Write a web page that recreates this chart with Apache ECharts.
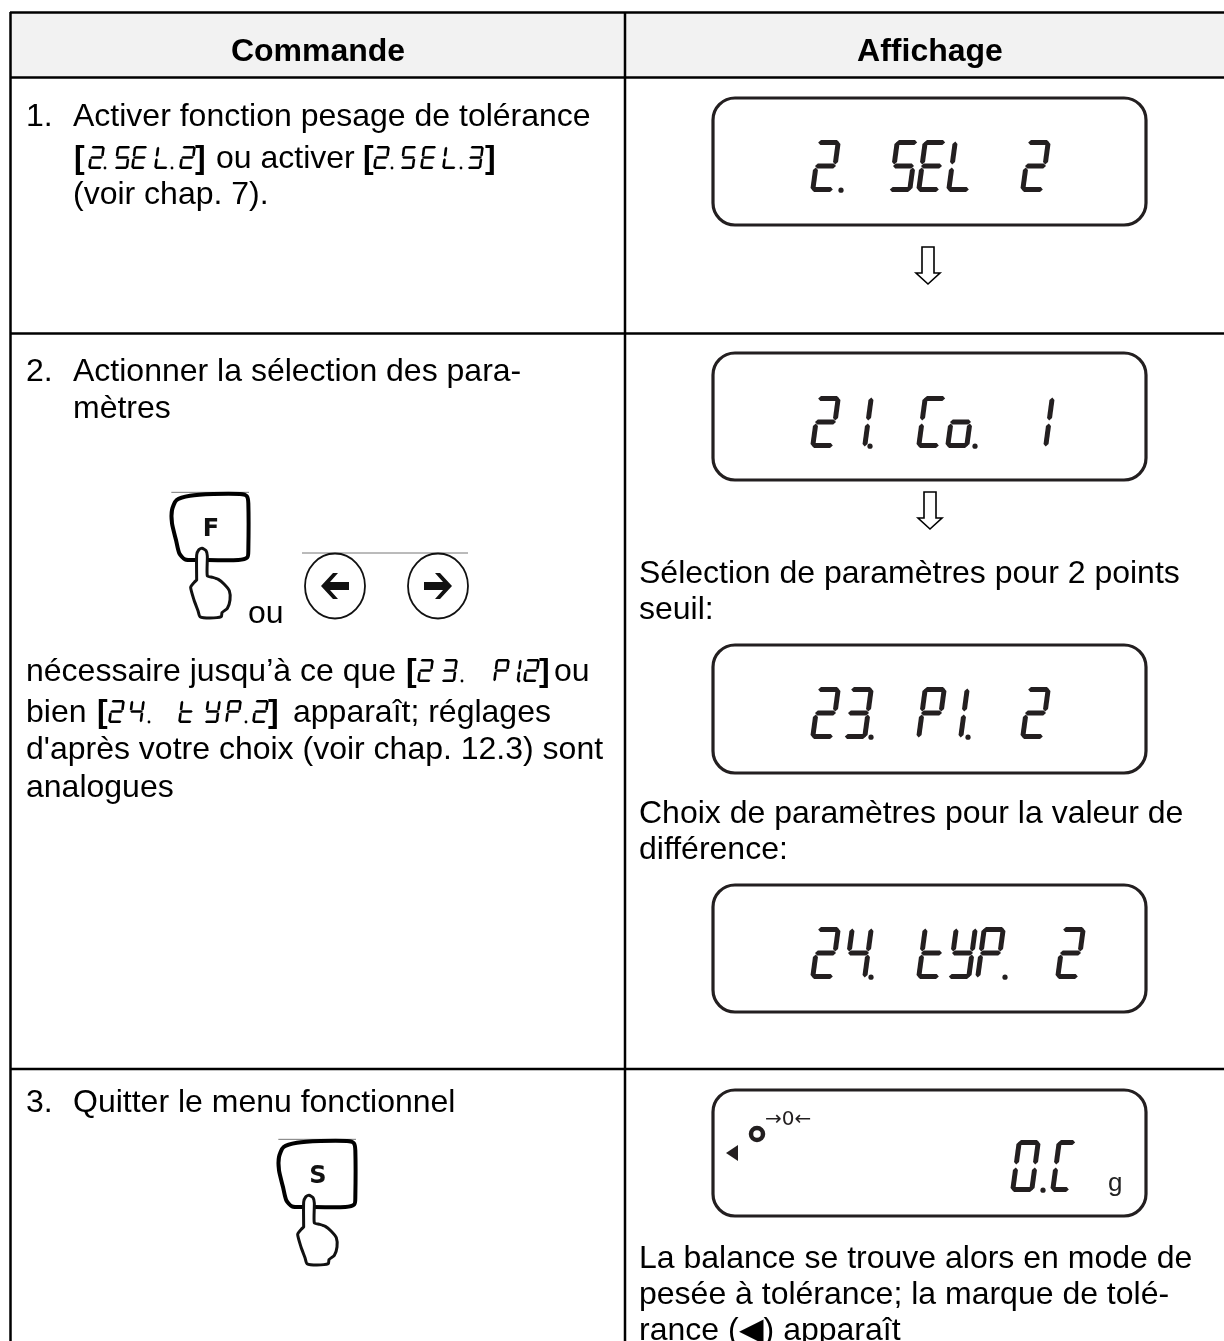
<!DOCTYPE html>
<html><head><meta charset="utf-8">
<style>html,body{margin:0;padding:0;background:#fff}#c{width:1224px;height:1341px}</style>
<script src="https://cdn.jsdelivr.net/npm/echarts@6/dist/echarts.min.js"></script>
</head><body><div id="c"></div>
<script>
// ---------- content ----------
const headers = ['Commande', 'Affichage'];
const stepNumbers = ['1.', '2.', '3.'];
const leftLines = [
  'Activer fonction pesage de tolérance',
  '(voir chap. 7).',
  'Actionner la sélection des para-',
  'mètres',
  'd\'après votre choix (voir chap. 12.3) sont',
  'analogues',
  'Quitter le menu fonctionnel'
];
const rightLines = [
  'Sélection de paramètres pour 2 points',
  'seuil:',
  'Choix de paramètres pour la valeur de',
  'différence:',
  'La balance se trouve alors en mode de',
  'pesée à tolérance; la marque de tolé-',
  'rance (◀) apparaît'
];
const inlineTexts = ['ou activer', 'nécessaire jusqu’à ce que', 'ou', 'bien', 'apparaît; réglages', 'ou'];
const keyLabels = ['F', 'S'];
const lcdTexts = ['2.SEL2', '21.Co.1', '23.P1.2', '24.tYP.2', '0.C'];
const lcdSymbols = ['→0←', 'g'];
const inlineCodes = ['2.5EL.2', '2.5EL.3', '23.P1.2', '24.tYP.2'];

// ---------- layout ----------
const font = '"Liberation Sans", Arial, sans-serif';
const BLACK = '#000', INK = '#231f20';
const g = [];
function text(s, x, y, o = {}) {
  g.push({ type: 'text', z: o.z || 5, style: {
    text: s, x, y: y + 4, fill: o.fill || BLACK, align: o.align || 'left', verticalAlign: 'middle',
    font: `${o.bold ? 'bold ' : ''}${o.size || 32}px ${o.family || font}`
  }});
}
function line(x1, y1, x2, y2, w = 2.5, c = BLACK) {
  g.push({ type: 'line', z: 2, shape: { x1, y1, x2, y2 }, style: { stroke: c, lineWidth: w } });
}
const SEGS = { '0':'abcdef','1':'bc','2':'abged','3':'abgcd','4':'fgbc','5':'afgcd','S':'afgcd','E':'afged','L':'fed',
  'C':'afed','o':'gcde','P':'abfge','t':'fged','Y':'fgbcd' };
function glyph(ch, x0, yTop, w, h, s, t, color) {
  const P = (u, v) => [x0 + u + (1 - v / h) * s, yTop + v];
  const gp = t * 0.3, m = h / 2, ht = t / 2;
  const hor = v => [P(gp, v), P(gp + ht, v - ht), P(w - gp - ht, v - ht), P(w - gp, v), P(w - gp - ht, v + ht), P(gp + ht, v + ht)];
  const ver = (u, a, b) => [P(u, a + gp), P(u + ht, a + gp + ht), P(u + ht, b - gp - ht), P(u, b - gp), P(u - ht, b - gp - ht), P(u - ht, a + gp + ht)];
  const map = { a: hor(ht), g: hor(m), d: hor(h - ht), f: ver(ht, 0, m), b: ver(w - ht, 0, m), e: ver(ht, m, h), c: ver(w - ht, m, h) };
  for (const k of SEGS[ch]) g.push({ type: 'polygon', z: 4, shape: { points: map[k] }, style: { fill: color } });
}
function seven(str, cells, yTop, dim, color) {
  // walks the string: each character takes the next cell (x, or [x, width]); a dot is a small disc
  let i = 0;
  for (const ch of str) {
    const c = cells[i++]; const x = Array.isArray(c) ? c[0] : c; const w = Array.isArray(c) ? c[1] : dim.w;
    if (ch === '.') g.push({ type: 'circle', z: 4, shape: { cx: x, cy: yTop + dim.h - dim.dot * 0.7, r: dim.dot }, style: { fill: color } });
    else glyph(ch, x, yTop, w, dim.h, dim.s, dim.t, color);
  }
}
function lcdBox(y1, y2) {
  g.push({ type: 'rect', z: 3, shape: { x: 713, y: y1, width: 433, height: y2 - y1, r: 22 }, style: { fill: '#fff', stroke: INK, lineWidth: 3.2 } });
}
function downArrow(cx, y1, y2) {
  const pts = [[cx - 6, y1], [cx + 6, y1], [cx + 6, y2 - 11], [cx + 12, y2 - 11], [cx, y2], [cx - 12, y2 - 11], [cx - 6, y2 - 11]];
  g.push({ type: 'polygon', z: 4, shape: { points: pts }, style: { fill: '#fff', stroke: BLACK, lineWidth: 1.6 } });
}
const KEY_PATH = [[140,240],[105,238],[88,220],[78,180],[66,130],[66,90],[80,60],[120,47],[190,42],[270,42],[290,48],[295,70],[295,210],[292,232],[265,240],[172,240]];
const HAND_PATH = [[140,300],[140,225],[146,210],[156,205],[168,212],[172,228],[172,288],[188,292],[205,298],[222,312],[238,332],[240,360],[232,385],[216,398],[214,410],[180,414],[150,410],[144,392],[132,360],[122,322],[132,308],[140,300]];
function keyIcon(dx, dy, label, lx, ly) {
  line(dx + 64 / 3, dy + 37 / 3, dx + 297 / 3, dy + 37 / 3, 1, '#777');
  g.push({ type: 'group', x: dx, y: dy, scaleX: 1 / 3, scaleY: 1 / 3, z: 4, children: [
    { type: 'polyline', z: 4, shape: { points: KEY_PATH, smooth: 0.25 }, style: { fill: null, stroke: BLACK, lineWidth: 12, lineCap: 'round', lineJoin: 'round' } },
    { type: 'polygon', z: 5, shape: { points: HAND_PATH, smooth: 0.2 }, style: { fill: '#fff', stroke: '#111', lineWidth: 9, lineJoin: 'round' } }
  ]});
  text(label, lx, ly, { bold: true, size: 24, align: 'center', family: '"DejaVu Sans", sans-serif', fill: '#111' });
}
function arrowCircle(cx, cy, dir) {
  g.push({ type: 'ellipse', z: 4, shape: { cx, cy, rx: 30, ry: 32.5 }, style: { fill: '#fff', stroke: '#111', lineWidth: 1.8 } });
  const pts = [[-14, 0], [-2, -13], [3, -13], [-5, -4], [14, -4], [14, 4], [-5, 4], [3, 13], [-2, 13]].map(p => [cx + dir * p[0], cy + p[1]]);
  g.push({ type: 'polygon', z: 5, shape: { points: pts }, style: { fill: '#111' } });
}

// table
g.push({ type: 'rect', z: 1, shape: { x: 11, y: 13, width: 1213, height: 64 }, style: { fill: '#f2f2f2' } });
line(10, 12.5, 1224, 12.5); line(10, 77.5, 1224, 77.5); line(10, 333.5, 1224, 333.5); line(10, 1069, 1224, 1069);
line(10.5, 12, 10.5, 1341); line(625, 12, 625, 1341);

text(headers[0], 318, 48, { bold: true, align: 'center' });
text(headers[1], 930, 48, { bold: true, align: 'center' });

// left column
const NX = 26, TX = 73;
text(stepNumbers[0], NX, 113); text(leftLines[0], TX, 113);
text(leftLines[1], TX, 191);
text(stepNumbers[1], NX, 368); text(leftLines[2], TX, 368); text(leftLines[3], TX, 405);
text(leftLines[4], NX, 746); text(leftLines[5], NX, 784);
text(stepNumbers[2], NX, 1099); text(leftLines[6], TX, 1099);

const small = { w: 14, h: 23, s: 3, t: 2.6, dot: 1.4 };
// line "[2.5EL.2] ou activer [2.5EL.3]"
const yA = 155;
text('[', 74, yA, { bold: true }); seven(inlineCodes[0], [88, 105, 114, 131, 154, 172, 179], yA - 9, small, BLACK); text(']', 195, yA, { bold: true });
text(inlineTexts[0], 216, yA);
text('[', 363, yA, { bold: true }); seven(inlineCodes[1], [373, 392, 400, 420, 442, 461, 467], yA - 9, small, BLACK); text(']', 485, yA, { bold: true });
// line "... [23. P1.2]ou"
const yB = 668;
text(inlineTexts[1], NX, yB);
text('[', 406, yB, { bold: true }); seven(inlineCodes[2], [417, 441, 462, 493, 505, 519, 523], yB - 9, small, BLACK); text(']', 539, yB, { bold: true });
text(inlineTexts[2], 554, yB);
// line "bien [24. tYP.2] apparaît; réglages"
const yC = 709;
text(inlineTexts[3], NX, yC);
text('[', 97, yC, { bold: true }); seven(inlineCodes[3], [108, 128, 149, 178, 204, 225, 246, 252], yC - 9, small, BLACK); text(']', 268, yC, { bold: true });
text(inlineTexts[4], 293, yC);

// icons
keyIcon(150, 480, keyLabels[0], 211, 526);
text(inlineTexts[5], 248, 610);
line(302, 553, 468, 553, 1, '#777');
arrowCircle(335, 586, 1); arrowCircle(438, 586, -1);
keyIcon(257, 1127, keyLabels[1], 318, 1173);

// right column
const RX = 639;
text(rightLines[0], RX, 570); text(rightLines[1], RX, 606);
text(rightLines[2], RX, 810); text(rightLines[3], RX, 846);
text(rightLines[4], RX, 1255); text(rightLines[5], RX, 1291); text(rightLines[6], RX, 1327);

// displays
const big = { w: 24, h: 52, s: 7, t: 5, dot: 2.6 };
lcdBox(98, 225);  seven(lcdTexts[0], [810, 841, 888, 916, 946, 1020], 140, big, INK);
lcdBox(353, 480); seven(lcdTexts[1], [810, 843, 870, 916, 945, 975, 1024], 396, big, INK);
lcdBox(645, 773); seven(lcdTexts[2], [810, 843, 871, 916, 939, 968, 1020], 687, big, INK);
lcdBox(885, 1012); seven(lcdTexts[3], [810, 843, 871, 916, 947, 975, 1005, 1055], 927, big, INK);
lcdBox(1090, 1216); seven(lcdTexts[4], [1010, 1043, [1050, 20]], 1140, big, INK);
downArrow(928, 247, 284); downArrow(930, 492, 529);
// tolerance mark, stability circle, zero marker and unit
g.push({ type: 'polygon', z: 4, shape: { points: [[726, 1153], [738, 1145], [738, 1161]] }, style: { fill: INK } });
g.push({ type: 'circle', z: 4, shape: { cx: 757, cy: 1134, r: 6 }, style: { fill: '#fff', stroke: INK, lineWidth: 4.5 } });
text(lcdSymbols[0], 765, 1116, { size: 20, fill: INK, family: '"DejaVu Sans", sans-serif' });
text(lcdSymbols[1], 1108, 1180, { size: 26, fill: '#222' });

const chart = echarts.init(document.getElementById('c'), null, { renderer: 'canvas' });
chart.setOption({ animation: false, backgroundColor: '#fff', graphic: { elements: g } });
</script></body></html>
